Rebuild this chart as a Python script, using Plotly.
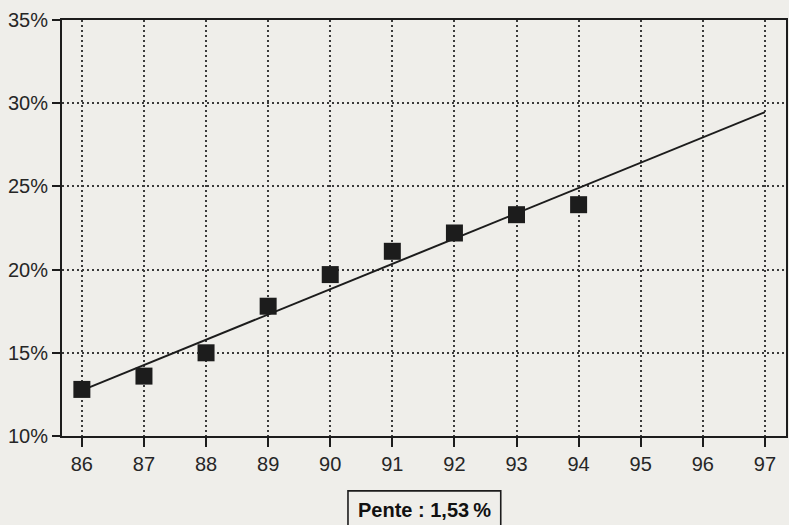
import numpy as np
import plotly.graph_objects as go

years = [86, 87, 88, 89, 90, 91, 92, 93, 94]
values = [12.8, 13.6, 15.0, 17.8, 19.7, 21.1, 22.2, 23.3, 23.9]
trend_years = [86, 97]
x_ticks = list(range(86, 98))
y_ticks = [10, 15, 20, 25, 30, 35]
y_tick_labels = ["10%", "15%", "20%", "25%", "30%", "35%"]
slope_label = "Pente : 1,53\u2009%"

coef = np.polyfit(years, values, 1)
trend_values = [float(np.polyval(coef, t)) for t in trend_years]

BG = "#efeeea"
INK = "#1c1c1c"
GRID = "#3a3a3a"
FONT = "Liberation Sans, Arial, sans-serif"

fig = go.Figure()
fig.add_trace(go.Scatter(
    x=trend_years, y=trend_values, mode="lines",
    line=dict(color=INK, width=2), showlegend=False, hoverinfo="skip"))
fig.add_trace(go.Scatter(
    x=years, y=values, mode="markers",
    marker=dict(symbol="square", size=17, color=INK, line=dict(width=0)),
    showlegend=False))

fig.update_xaxes(
    range=[85.68, 97.34], tickvals=x_ticks, ticktext=[str(v) for v in x_ticks],
    showgrid=True, gridcolor=GRID, griddash="2px,3px", gridwidth=1.6,
    showline=True, linecolor=INK, linewidth=2, mirror=True,
    ticks="outside", ticklen=9, tickwidth=1.8, tickcolor=INK,
    tickfont=dict(family=FONT, size=20, color="#262626"), zeroline=False)
fig.update_yaxes(
    range=[10, 35], tickvals=y_ticks, ticktext=y_tick_labels,
    showgrid=True, gridcolor=GRID, griddash="2px,3px", gridwidth=1.6,
    showline=True, linecolor=INK, linewidth=2, mirror=True,
    ticks="outside", ticklen=8, tickwidth=1.8, tickcolor=INK,
    tickfont=dict(family=FONT, size=20, color="#262626"), zeroline=False)

fig.add_shape(type="rect", xref="paper", yref="paper",
              x0=0.395, x1=0.606, y0=-0.25, y1=-0.132,
              line=dict(color=INK, width=1.6), fillcolor=BG, layer="above")
fig.add_annotation(xref="paper", yref="paper", x=0.5, y=-0.178,
                   xanchor="center", yanchor="middle",
                   text="<b>" + slope_label + "</b>", showarrow=False,
                   font=dict(family=FONT, size=20, color="#111111"))

fig.update_layout(
    width=789, height=525,
    margin=dict(l=62, r=1, t=20, b=89),
    paper_bgcolor=BG, plot_bgcolor=BG,
    font=dict(family=FONT),
)

post = ("document.body.style.margin='0';document.body.style.overflow='hidden';"
        "Plotly.relayout(document.getElementById('{plot_id}'),{width:789,height:525});")
fig.write_html("out.html", post_script=post, config={"displayModeBar": False})
